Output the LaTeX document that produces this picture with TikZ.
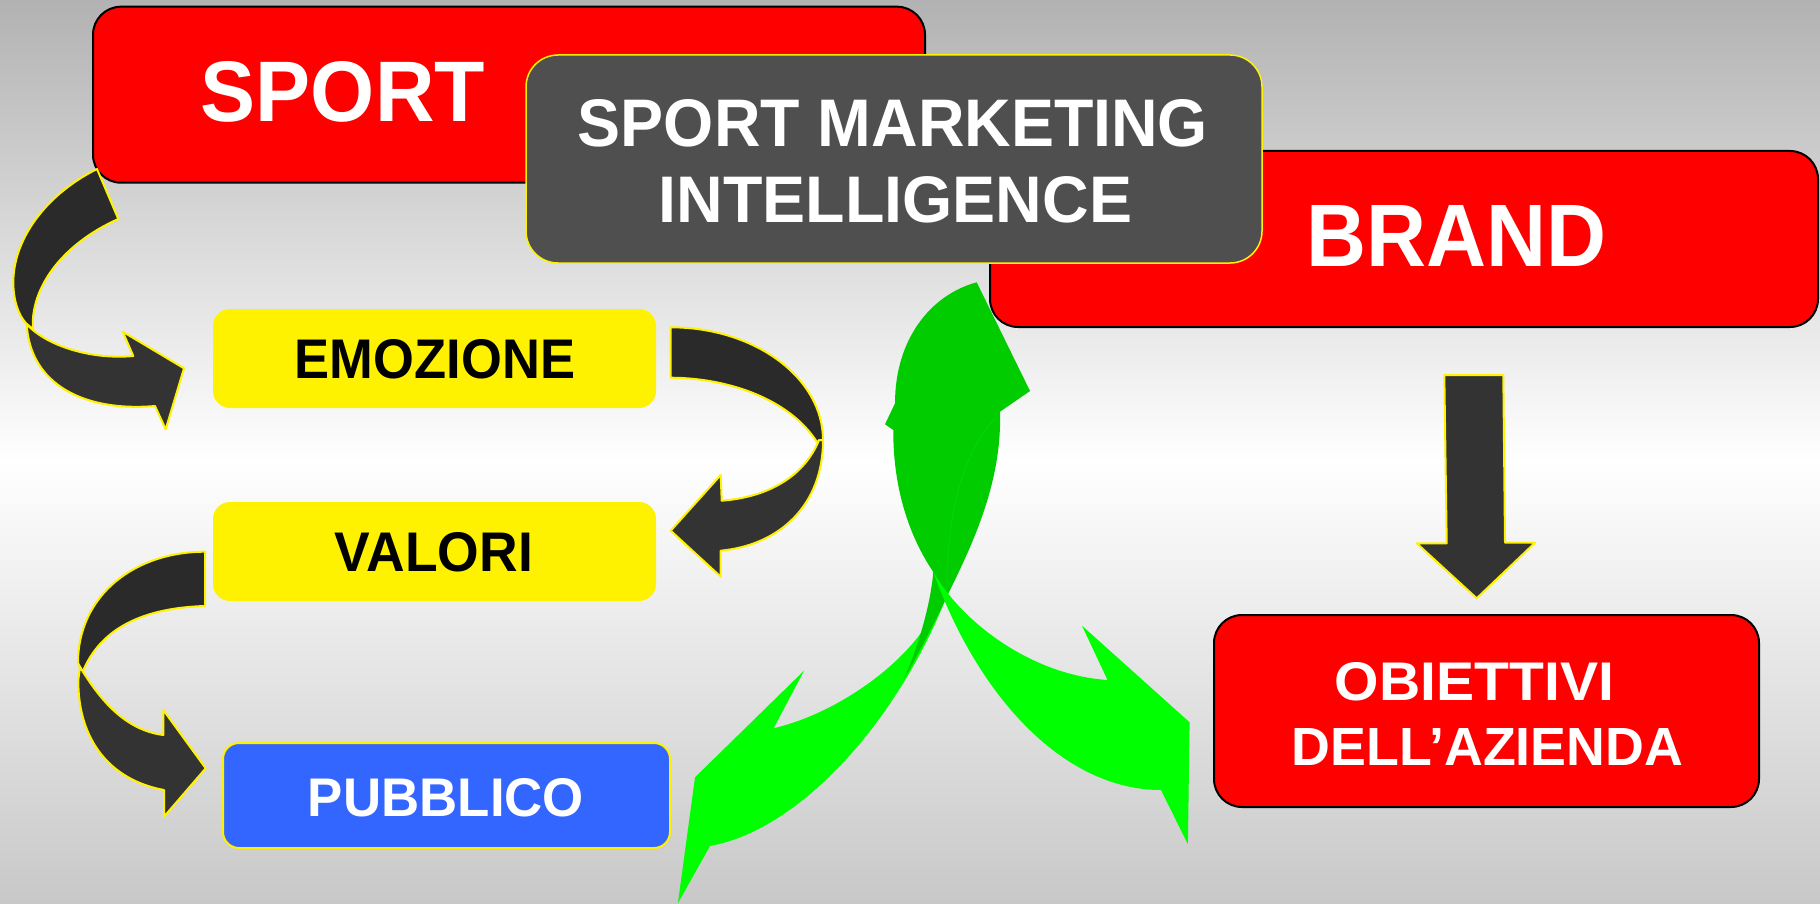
\documentclass[tikz,border=0pt]{standalone}
\usepackage{fontspec}
\setmainfont{Liberation Sans}
\usepackage{graphicx}
\definecolor{bgtop}{HTML}{B2B2B2}
\definecolor{bgbot}{HTML}{C8C8C8}
\definecolor{smigray}{HTML}{4F4F4F}
\definecolor{arrback}{HTML}{2A2A2A}
\definecolor{arrfront}{HTML}{333333}
\definecolor{bluebox}{HTML}{3366FF}
\definecolor{gdark}{HTML}{00CC00}
\definecolor{glight}{HTML}{00FF00}
\definecolor{gline}{HTML}{00D800}
\newcommand{\fitlbl}[3]{\resizebox{#1pt}{#2pt}{\bfseries #3}}
\begin{document}
\begin{tikzpicture}[x=1pt,y=-1pt,
  box/.style={rounded corners=#1, inner sep=0pt, line width=2pt},
  lbl/.style={inner sep=0pt, text=white},
  lblk/.style={inner sep=0pt, text=black},
  arrb/.style={fill=arrback, draw=yellow, line width=2pt, line join=round},
  arrf/.style={fill=arrfront, draw=yellow, line width=2pt, line join=round},
  gd/.style={fill=gdark},
  gl/.style={fill=glight}]
\useasboundingbox (0,0) rectangle (1820,904);
\shade[top color=bgtop, bottom color=white] (0,0) rectangle (1820,461);
\shade[top color=white, bottom color=bgbot] (0,460) rectangle (1820,904);

% boxes
\node[box=28pt, fill=red, draw=black, minimum width=832pt, minimum height=176pt] (sport) at (509,94.7) {};
\node[lbl] (sportlbl) at (343,92) {\fitlbl{284}{60}{SPORT}};
\node[box=28pt, fill=red, draw=black, minimum width=828pt, minimum height=176pt] (brand) at (1404,239) {};
\node[lbl] (brandlbl) at (1457,235.5) {\fitlbl{300}{61}{BRAND}};
\node[box=32pt, fill=smigray, draw=yellow, line width=1.5pt, minimum width=736pt, minimum height=208pt] (smi) at (894,159) {};
\node[lbl] (smi1) at (893,123.5) {\fitlbl{630}{47}{SPORT MARKETING}};
\node[lbl] (smi2) at (895.5,200) {\fitlbl{473}{46}{INTELLIGENCE}};

\node[box=17pt, fill=yellow, minimum width=443pt, minimum height=99pt] (emo) at (434.5,358.5) {};
\node[lblk] (emolbl) at (435,359.5) {\fitlbl{280}{39}{EMOZIONE}};
\node[box=17pt, fill=yellow, minimum width=443pt, minimum height=99pt] (val) at (434.5,551.5) {};
\node[lblk] (vallbl) at (434,552.5) {\fitlbl{198}{39}{VALORI}};
\node[box=16pt, fill=bluebox, draw=yellow, minimum width=447pt, minimum height=105pt] (pub) at (446.5,795.5) {};
\node[lbl] (publbl) at (446,798) {\fitlbl{276}{38}{PUBBLICO}};
\node[box=28pt, fill=red, draw=black, minimum width=545pt, minimum height=192pt] (obi) at (1486.5,711) {};
\node[lbl] (obi1) at (1474.5,682) {\fitlbl{279}{38}{OBIETTIVI}};
\node[lbl] (obi2) at (1487.5,746.5) {\fitlbl{391}{37}{DELL’AZIENDA}};

% curved arrow SPORT -> EMOZIONE
\filldraw[arrb] (97,169) .. controls (45,195) and (13,240) .. (13.3,283)
  .. controls (13.5,300) and (18,315) .. (26.7,324) -- (33,329)
  .. controls (30,290) and (60,245) .. (118.3,219) -- cycle;
\filldraw[arrf] (26.7,324) .. controls (45,345) and (90,360) .. (133.3,356)
  -- (122.7,331.7) -- (184,368.3) -- (165.7,429.3) -- (155,406)
  .. controls (85,412) and (30,385) .. (26.7,324) -- cycle;

% curved arrow EMOZIONE -> VALORI
\filldraw[arrb] (670.7,327.3) .. controls (755,327.3) and (823,378) .. (823,440)
  -- (816.7,441.7) .. controls (790,400) and (730,378) .. (670.7,377.7) -- cycle;
\filldraw[arrf] (819,440) .. controls (805,475) and (770,497) .. (721.7,500.7)
  -- (720.7,475) -- (670.7,530.7) -- (720.7,576.7) -- (720.7,550.7)
  .. controls (780,545) and (823,505) .. (823,440) -- cycle;

% curved arrow VALORI -> PUBBLICO
\filldraw[arrb] (205,551.7) .. controls (135,551.7) and (78,595) .. (78,663)
  -- (82.7,671.7) .. controls (100,630) and (140,608) .. (205,606) -- cycle;
\filldraw[arrf] (80,667) .. controls (100,700) and (125,730) .. (163.3,735)
  -- (163.3,710) -- (205.7,768.3) -- (164,816.7) -- (164,790)
  .. controls (110,780) and (78,740) .. (78.3,680) -- cycle;

% straight arrow BRAND -> OBIETTIVI
\filldraw[arrf] (1444.3,375) -- (1503.3,375) -- (1505,542.7) -- (1535,542.7) -- (1476.7,598.3) -- (1416.7,543.3) -- (1446.7,543.3) -- cycle;

% green arrows
\fill[gl] (920.7,633.3) .. controls (890,675) and (830,715) .. (773.6,728.3)
  -- (804,670.7) -- (695,777.3) -- (677.9,903.3) -- (710,846)
  .. controls (800,830) and (900,720) .. (950,588) -- cycle;
\fill[gd] (976.7,282.3) -- (1030,391) -- (1000,411.7)
  .. controls (1002,480) and (975,540) .. (946.7,596.7)
  .. controls (935,622) and (915,660) .. (903.3,680)
  .. controls (915,655) and (930,610) .. (933.3,572)
  .. controls (905,530) and (893,480) .. (893.3,430)
  -- (885,424.3) -- (895,403.3)
  .. controls (895,340) and (930,295) .. (976.7,282.3) -- cycle;
\draw[gline, line width=1pt] (996.7,416.7) .. controls (960,455) and (947,520) .. (946.7,590);
\fill[gl] (933.3,571.7) .. controls (960,620) and (1030,675) .. (1107.5,680)
  -- (1082,625.7) -- (1189.6,722.3) -- (1187.9,844.3) -- (1161,790)
  .. controls (1060,790) and (975,690) .. (933.3,571.7) -- cycle;
\end{tikzpicture}
\end{document}
